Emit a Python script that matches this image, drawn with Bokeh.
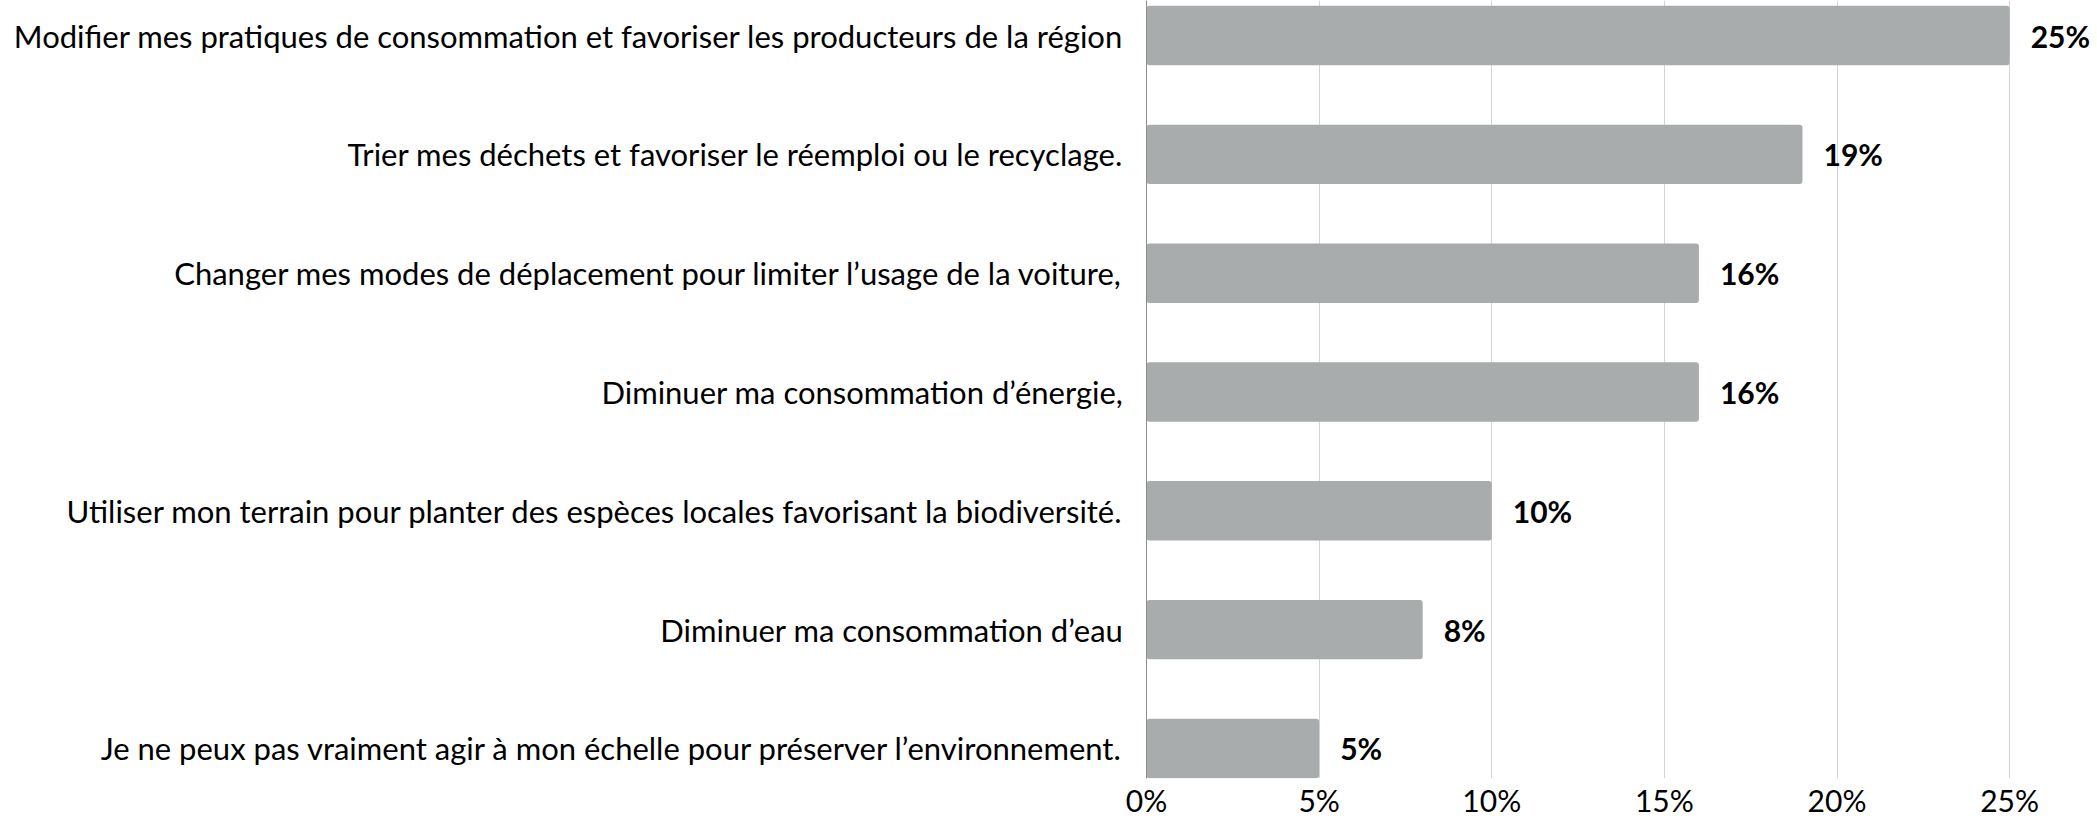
from bokeh.plotting import figure
from bokeh.models import Range1d, FixedTicker, PrintfTickFormatter, ColumnDataSource
from bokeh.core.properties import value
from bokeh.embed import file_html
from bokeh.resources import INLINE

categories = [
    "Modifier mes pratiques de consommation et favoriser les producteurs de la région",
    "Trier mes déchets et favoriser le réemploi ou le recyclage.",
    "Changer mes modes de déplacement pour limiter l’usage de la voiture,",
    "Diminuer ma consommation d’énergie,",
    "Utiliser mon terrain pour planter des espèces locales favorisant la biodiversité.",
    "Diminuer ma consommation d’eau",
    "Je ne peux pas vraiment agir à mon échelle pour préserver l’environnement.",
]
values = [25, 19, 16, 16, 10, 8, 5]
x_ticks = [0, 5, 10, 15, 20, 25]

positions = list(range(len(categories)))
labels = [f"{v}%" for v in values]

src = ColumnDataSource(dict(y=positions, v=values, lab=labels))

FONT = "Lato"

p = figure(
    frame_width=946, frame_height=778,
    output_backend="svg", toolbar_location=None,
    x_range=Range1d(0, 27.40),
    y_range=Range1d(6.2525, -0.2946),
    min_border_left=1146, min_border_right=0, min_border_top=0, min_border_bottom=0,
)
p.outline_line_color = None
p.background_fill_color = "white"
p.border_fill_color = "white"

p.hbar(y="y", right="v", left=0, height=0.5, source=src,
       fill_color="#a9acac", line_color=None, border_radius=3)

p.text(x="v", y="y", text="lab", source=src, x_offset=21,
       text_align="left", text_baseline="middle",
       text_font=value(FONT), text_font_size="30px", text_font_style="bold",
       text_color="#000000")

# x axis
p.xaxis.ticker = FixedTicker(ticks=x_ticks)
p.xaxis.formatter = PrintfTickFormatter(format="%d%%")
p.xaxis.axis_line_color = None
p.xaxis.major_tick_line_color = None
p.xaxis.minor_tick_line_color = None
p.xaxis.major_tick_in = 0
p.xaxis.major_tick_out = 0
p.xaxis.major_label_text_font = FONT
p.xaxis.major_label_text_font_size = "30px"
p.xaxis.major_label_text_color = "#000000"
p.xaxis.major_label_standoff = 3

# y axis
p.yaxis.ticker = FixedTicker(ticks=positions)
p.yaxis.major_label_overrides = {i: c for i, c in zip(positions, categories)}
p.yaxis.axis_line_color = "#8c8c8c"
p.yaxis.axis_line_width = 1
p.yaxis.major_tick_line_color = None
p.yaxis.minor_tick_line_color = None
p.yaxis.major_tick_in = 0
p.yaxis.major_tick_out = 0
p.yaxis.major_label_text_font = FONT
p.yaxis.major_label_text_font_size = "31px"
p.yaxis.major_label_text_color = "#000000"
p.yaxis.major_label_standoff = 23

p.xgrid.ticker = FixedTicker(ticks=x_ticks)
p.xgrid.grid_line_color = "#d4d4d4"
p.xgrid.grid_line_width = 1
p.ygrid.grid_line_color = None

open("out.html", "w").write(file_html(p, INLINE))
